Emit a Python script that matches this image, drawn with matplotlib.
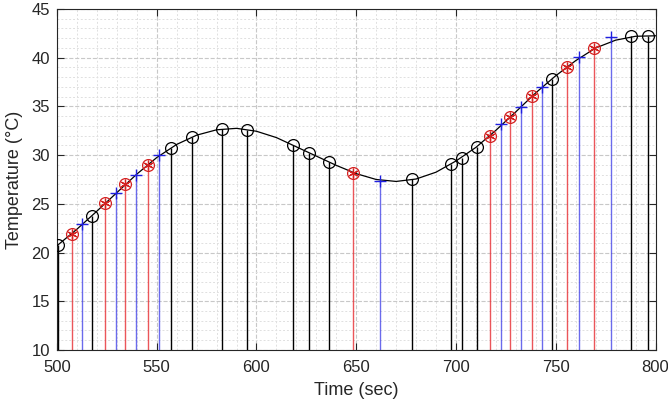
import numpy as np
import matplotlib
matplotlib.use("Agg")
import matplotlib.pyplot as plt
from matplotlib.ticker import MultipleLocator

# smooth temperature trace, read every 10 s
curve_t = [500, 510, 520, 530, 540, 550, 560, 570, 580, 590, 600, 610, 620, 630, 640,
           650, 660, 670, 680, 690, 700, 710, 720, 730, 740, 750, 760, 770, 780, 790, 800]
curve_T = [20.7, 22.4, 24.25, 26.15, 28.05, 29.75, 31.1, 32.05, 32.6, 32.75, 32.45, 31.8,
           30.85, 29.9, 28.95, 28.1, 27.5, 27.3, 27.55, 28.25, 29.4, 30.8, 32.55, 34.45,
           36.4, 38.15, 39.7, 41.0, 41.8, 42.2, 42.25]

# black samples (open circles)
black_t = [500.5, 517.5, 556.9, 567.8, 582.5, 595.2, 618.5, 626.3, 636.1, 677.7,
           697.4, 702.8, 710.3, 748.0, 787.8, 796.3]
black_T = [20.8, 23.8, 30.7, 31.9, 32.65, 32.6, 31.0, 30.25, 29.3, 27.5,
           29.05, 29.75, 30.85, 37.8, 42.2, 42.25]

# red samples (circle + asterisk)
red_t = [507.4, 524.3, 534.0, 545.4, 648.4, 717.0, 727.2, 738.2, 755.5, 769.4]
red_T = [21.95, 25.05, 27.0, 29.0, 28.2, 32.0, 33.9, 36.05, 39.05, 40.95]

# blue samples (plus)
blue_t = [512.6, 529.4, 539.5, 551.1, 661.8, 722.4, 732.6, 743.1, 761.9, 777.7]
blue_T = [22.95, 26.1, 28.0, 30.0, 27.3, 33.15, 34.9, 37.0, 40.1, 42.1]

plt.rcParams["font.family"] = ["Liberation Sans", "DejaVu Sans"]

fig = plt.figure(figsize=(6.68, 4.09), dpi=100)
ax = fig.add_axes([0.0853, 0.1443, 0.8960, 0.8337])

base = 10
ax.vlines(black_t, base, black_T, color="black", lw=1.0, zorder=2)
ax.vlines(red_t, base, red_T, color="#e8383d", lw=1.0, alpha=0.85, zorder=2)
ax.vlines(blue_t, base, blue_T, color="#3a3ae6", lw=1.0, alpha=0.75, zorder=2)

ax.plot(curve_t, curve_T, color="black", lw=0.9, zorder=3)

ax.plot(black_t, black_T, "o", ms=8.5, mfc="none", mec="black", mew=0.9, zorder=4)
ax.plot(red_t, red_T, "o", ms=8.5, mfc="none", mec="#d42020", mew=0.9, zorder=4)
ax.plot(red_t, red_T, marker=(6, 2, 0), ls="none", ms=7, mew=0.9, color="#d42020", zorder=5)
ax.plot(blue_t, blue_T, "+", ms=9, mew=1.0, color="#2020e0", zorder=5)

ax.set_xlim(500, 800)
ax.set_ylim(10, 45)
ax.xaxis.set_major_locator(MultipleLocator(50))
ax.xaxis.set_minor_locator(MultipleLocator(10))
ax.yaxis.set_major_locator(MultipleLocator(5))
ax.yaxis.set_minor_locator(MultipleLocator(1))

ax.grid(which="major", color="#c8c8c8", linestyle="--", linewidth=0.8)
ax.grid(which="minor", color="#e0e0e0", linestyle=(0, (2, 2)), linewidth=0.7)
ax.set_axisbelow(True)

ax.tick_params(which="both", direction="in", top=True, right=True,
               colors="#262626", labelsize=12)
ax.tick_params(axis="x", which="major", length=5, width=0.8, pad=7)
ax.tick_params(axis="y", which="major", length=5, width=0.8, pad=5)
ax.tick_params(which="minor", length=0)
for s in ax.spines.values():
    s.set_color("#262626")
    s.set_linewidth(0.8)

ax.set_xlabel("Time (sec)", fontsize=13, color="#262626", labelpad=5)
ax.set_ylabel("Temperature (°C)", fontsize=13, color="#262626", labelpad=6)

fig.savefig("out.png", dpi=100)
